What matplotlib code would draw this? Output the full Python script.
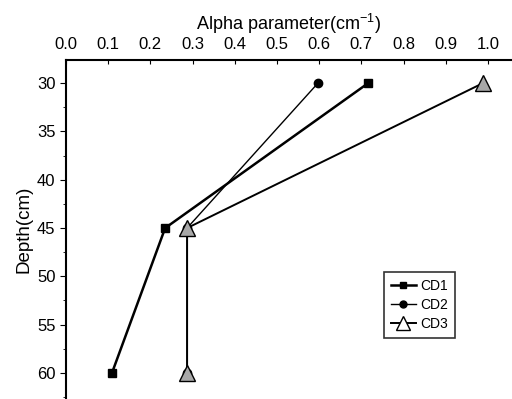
import matplotlib.pyplot as plt
from matplotlib.ticker import MultipleLocator

plt.rcParams['font.family'] = ['Liberation Sans', 'DejaVu Sans']

# Profundidades y parametro alpha
depth = [30, 45, 60]
cd1 = [0.716, 0.235, 0.109]
cd2 = [0.597, 0.287, 0.287]
cd3 = [0.988, 0.287, 0.287]

xticks = [0.0, 0.1, 0.2, 0.3, 0.4, 0.5, 0.6, 0.7, 0.8, 0.9, 1.0]
yticks = [30, 35, 40, 45, 50, 55, 60]

fig = plt.figure(figsize=(5.12, 3.99), dpi=100)
ax = fig.add_axes([66/512, 0, 446/512, 339/399])

ax.plot(cd1, depth, color='black', lw=1.8, marker='s', markersize=6, label='CD1')
ax.plot(cd2, depth, color='black', lw=1.0, marker='o', markersize=6, label='CD2')
ax.plot(cd3, depth, color='black', lw=1.4, marker='^', markersize=11,
        markerfacecolor='#a8a8a8', markeredgecolor='black', label='CD3')

ax.set_xlim(0, 1.057)
ax.set_ylim(62.7, 27.6)
ax.xaxis.tick_top()
ax.xaxis.set_label_position('top')
ax.set_xticks(xticks)
ax.set_xticklabels([f'{v:.1f}' for v in xticks])
ax.set_yticks(yticks)
ax.yaxis.set_minor_locator(MultipleLocator(2.5))
ax.tick_params(axis='x', direction='in', length=3, labelsize=12, pad=6)
ax.tick_params(axis='y', direction='out', length=4, labelsize=12)
ax.tick_params(axis='y', which='minor', direction='out', length=2)
ax.spines['right'].set_visible(False)
ax.spines['bottom'].set_visible(False)
ax.spines['top'].set_linewidth(1.5)
ax.spines['left'].set_linewidth(1.5)

ax.set_xlabel(r'Alpha parameter(cm$^{\mathregular{-1}}$)', fontsize=13, labelpad=5)
ax.set_ylabel('Depth(cm)', fontsize=13.5, labelpad=3)

leg = ax.legend(loc='upper left', bbox_to_anchor=(0.713, 0.374), fontsize=10,
                frameon=True, fancybox=False, edgecolor='black',
                handlelength=1.8, handletextpad=0.3, borderpad=0.5,
                labelspacing=0.35, borderaxespad=0)
leg.get_frame().set_linewidth(1.2)
for h in leg.legend_handles:
    if h.get_marker() == '^':
        h.set_markerfacecolor('white')
        h.set_markersize(10)
    else:
        h.set_markersize(5)

plt.savefig('out.png', dpi=100)
plt.close()
